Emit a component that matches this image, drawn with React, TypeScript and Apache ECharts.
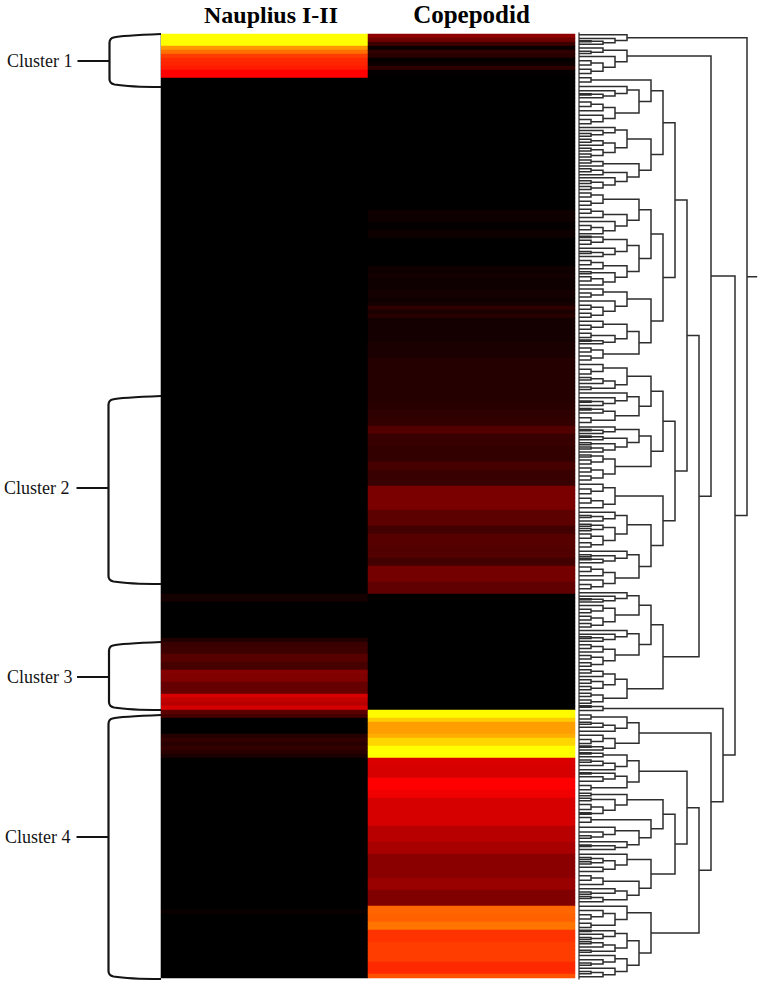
import React, { useEffect, useRef } from "react";
import * as echarts from "echarts";

// ---------- Data ----------
const stages = ["Nauplius I-II", "Copepodid"];
// Expression per row, run-length encoded as [rowCount, value]; 0 = black, 50 = red, 100 = yellow
const naupliusRuns = [
  [3, 100], [1, 80], [1, 72], [1, 62], [1, 58], [1, 57], [1, 55], [2, 50],
  [129, 0], [2, 4], [9, 0], [1, 6], [1, 11], [2, 12], [2, 17], [2, 14], [1, 26], [2, 25], [3, 20],
  [1, 42], [1, 38], [1, 36], [1, 42], [1, 18], [1, 14], [4, 0],
  [1, 7], [1, 10], [1, 8], [1, 10], [1, 8], [1, 5], [38, 0], [1, 2], [16, 0],
];
const copepodidRuns = [
  [1, 28], [1, 22], [1, 12], [1, 2], [1, 9], [1, 8], [1, 1], [1, 2], [1, 9], [1, 1],
  [34, 0], [3, 3], [2, 1], [2, 3], [7, 0],
  [2, 3], [1, 4], [3, 3], [2, 4], [1, 3], [1, 4], [1, 9], [1, 5], [1, 8], [6, 4], [4, 5], [7, 7], [4, 7],
  [2, 8], [2, 9], [2, 10], [2, 16], [3, 11], [4, 10], [2, 14], [4, 11], [6, 24], [4, 18], [2, 13],
  [3, 17], [3, 16], [2, 13], [4, 23], [3, 19], [29, 0],
  [2, 99], [1, 90], [3, 81], [1, 84], [2, 92], [3, 100], [2, 43], [3, 42], [3, 50], [2, 47], [7, 42], [4, 36],
  [3, 33], [6, 27], [3, 30], [4, 25], [2, 70], [2, 69], [2, 73], [3, 60], [5, 62], [3, 58], [1, 66],
];
const clusterNames = ["Cluster 1", "Cluster 2", "Cluster 3", "Cluster 4"];

// Dendrogram: [level, upper, lower, spanInRows?]; a bare number is a leaf and its row height
const p = [1, 1, 1];
const n = [1, 0.5, 0.5];
const d = [1, 0.3, 0.3];
const nodeA = [4, 1, [3, 1, [2, d, 1]], 3.25];
const nodeB = [4, [2, 1, n], [3, 1, [2, p, p]], 7.4];
const nodeC = [6, p, [5, [4, 1, [3, 1, [2, d, 1]]], [3, [2, p, 1], [2, 1, p]]], 12.6];
const nodeD = [6, [4, [3, 1, [2, 1, p]], [3, [2, p, 1], [2, p, p]]], [5, [2, p, 1], [4, [2, p, 1], [3, 1, [2, p, p]]]], 16.25];
const nodeE = [6, [5, [2, p, p], [4, [2, p, 1], [3, 1, [2, p, 1]]]], [5, [4, [2, d, p], [3, 1, [2, n, 1]]], [4, [2, p, 1], [3, n, [2, p, 1]]]], 24];
const nodeF = [6, [4, [2, 1, p], [3, 1, [2, p, p]]], [5, [4, [2, 1, p], [3, p, [2, d, 1]]], [2, p, p]], 18.75];
const nodeG = [6, [4, [2, 1, p], [3, [2, n, 1], n]], [5, [4, 1, [3, 1, [2, d, 1]]], [3, [2, d, 1], p]], 15.75];
const nodeH = [6, [5, [3, 1, [2, d, 1]], [4, [2, d, 1], [3, n, [2, n, 1]]]], [3, [2, n, p], [2, p, p]], 14.25];
const nodeI = [3, [2, 1, p], [2, p, 1], 7];
const nodeJ = [6, [4, [3, 1, [2, n, 1]], [3, [2, n, n], [2, p, p]]], [5, [4, 1, [3, n, [2, d, 1]]], [3, [2, p, 1], [2, 1, p]]], 20.25];
const nodeK = [6, [5, [4, 1, [3, 1, [2, d, 1]]], [3, [2, 1, p], [2, p, p]]], [5, [4, 1, [3, 1, [2, n, 1]]], [3, [2, p, 1], [2, p, p]]], 19.25];
const nodeM = [4, [3, [2, p, 1], [2, p, p]], [2, p, p], 9.25];
const nodeO = [2, d, 1, 2];
const nodeP = [5, [4, p, [3, [2, n, 1], 1]], [3, [2, 1, p], [2, d, 1]], 9.75];
const nodeQ = [5, [4, [2, d, 1], [3, [2, n, 1], 1]], [4, [3, d, [2, 1, 1]], p], 10];
const nodeR = [4, n, [3, n, [2, p, d]], 5.75];
const nodeS = [6, p, [5, [3, 1, [2, 1, n]], [4, 1, [3, d, 1]]], 9.25];
const nodeT = [6, [4, 1, [3, [2, n, n], [2, 1, 1]]], [5, [2, p, 1], [4, [3, 1, n], [2, n, 1]]], 13];
const nodeU = [6, [4, 1, [3, [2, 1, p], p]], [5, [4, [3, d, [2, 1, n]], [3, [2, n, 1], n]], [4, [3, 1, [2, 1, n]], [3, 1, [2, n, 1]]]], 18.75];

const upperBranch = [11, nodeB, [10, [9, [8, [7, nodeC, nodeD], [7, nodeE, nodeF]], [8, [7, nodeG, nodeH], [7, nodeI, nodeJ]]], [7, nodeK, nodeM]]];
const lowerBranch = [12, nodeO, [11, nodeP, [10, [9, nodeQ, [8, [7, nodeR, nodeS], nodeT]], nodeU]]];
const dendrogramRoot = [14, nodeA, [13, upperBranch, lowerBranch]];
const dendrogramRows = 236.5;
const rootStemLevel = 14.85;

// ---------- Layout of the tree ----------
const weight = (node: any): number =>
  typeof node === "number" ? node : node[3] ?? weight(node[1]) + weight(node[2]);

function buildBrackets(root: any) {
  const items: number[][] = [];
  let cursor = 0;
  const place = (node: any, scale: number): { y: number; level: number } => {
    if (typeof node === "number") {
      const y = cursor + (node * scale) / 2;
      cursor += node * scale;
      return { y, level: 0 };
    }
    const s = node[3] ? node[3] / (weight(node[1]) + weight(node[2])) : scale;
    const a = place(node[1], s);
    const b = place(node[2], s);
    items.push([node[0], a.y, b.y, a.level, b.level]);
    return { y: (a.y + b.y) / 2, level: node[0] };
  };
  const top = place(root, 1);
  items.push([rootStemLevel, top.y, top.y, root[0], root[0]]);
  return items;
}

const expandRuns = (runs: number[][]) => runs.flatMap(([count, v]) => Array(count).fill(v));

const FONT = "'Liberation Serif', 'Times New Roman', serif";
const INK = "#141414";

function bracketPath(top: number, bottom: number, armY: number, x: number) {
  const h = 161;
  return (
    `M${h} ${top} C${h - 26} ${top + 1},${x + 10} ${top + 2},${x + 4} ${top + 3.5} Q${x} ${top + 4.5},${x} ${top + 9} ` +
    `L${x} ${bottom - 8} Q${x} ${bottom - 3.5},${x + 5} ${bottom - 2.5} C${x + 14} ${bottom - 1},${h - 20} ${bottom},${h} ${bottom} ` +
    `M${x} ${armY} L${x - 32} ${armY}`
  );
}
// top, bottom, arm height, bracket x, label x
const bracketLayout = [
  [34, 87, 61, 109.5, 7],
  [396, 584, 488, 108.5, 4],
  [642, 710, 677, 109, 7],
  [715, 979, 837, 108.5, 5],
];

export default function App() {
  const ref = useRef<HTMLDivElement>(null);
  useEffect(() => {
    if (!ref.current) return;
    const chart = echarts.init(ref.current, undefined, { renderer: "svg" });
    const naup = expandRuns(naupliusRuns);
    const cope = expandRuns(copepodidRuns);
    const rows = naup.map((_, i) => String(i + 1));
    const cells: number[][] = [];
    naup.forEach((v, i) => cells.push([0, i, v]));
    cope.forEach((v, i) => cells.push([1, i, v]));
    const brackets = buildBrackets(dendrogramRoot);

    const graphics: any[] = [
      { type: "line", shape: { x1: 160.5, y1: 33, x2: 160.5, y2: 979 }, style: { stroke: "#b5b5b5", lineWidth: 1 }, z: 5 },
    ];
    bracketLayout.forEach(([top, bottom, arm, x, labelX], i) => {
      const name = `clusterBracket${i}`;
      echarts.graphic.registerShape(name, echarts.graphic.extendPath(bracketPath(top, bottom, arm, x), {}) as any);
      graphics.push({ type: name, x: 0, y: 0, style: { fill: "none", stroke: INK, lineWidth: 2.2 }, z: 5 });
      graphics.push({
        type: "text", x: labelX, y: arm, z: 5,
        style: { text: clusterNames[i], fill: INK, font: `18px ${FONT}`, textVerticalAlign: "middle", textBaseline: "middle" },
      });
    });

    chart.setOption({
      animation: false,
      backgroundColor: "#ffffff",
      grid: [
        { left: 161, top: 34, width: 414, height: 944, containLabel: false },
        { left: 579, top: 33, width: 180, height: 946, containLabel: false },
      ],
      xAxis: [
        {
          type: "category", gridIndex: 0, data: stages, position: "top",
          axisLine: { show: false }, axisTick: { show: false }, splitLine: { show: false },
          axisLabel: {
            interval: 0, margin: 7,
            formatter: (v: string) => (v === stages[0] ? `{a|${v}}` : `{b|${v}}`),
            rich: {
              a: { fontFamily: FONT, fontWeight: "bold", fontSize: 24, color: "#000", padding: [0, 0, 0, 13] },
              b: { fontFamily: FONT, fontWeight: "bold", fontSize: 25, color: "#000" },
            },
          },
        },
        { type: "value", gridIndex: 1, min: 0, max: 15, show: false },
      ],
      yAxis: [
        { type: "category", gridIndex: 0, data: rows, inverse: true, show: false },
        {
          type: "value", gridIndex: 1, min: 0, max: dendrogramRows, inverse: true,
          axisLine: { show: true, onZero: false, lineStyle: { color: "#555", width: 1.5 } },
          axisTick: { show: false }, axisLabel: { show: false }, splitLine: { show: false },
        },
      ],
      visualMap: {
        show: false, type: "continuous", min: 0, max: 100, dimension: 2, seriesIndex: 0,
        inRange: { color: ["#000000", "#ff0000", "#ffff00"] },
      },
      series: [
        { type: "heatmap", xAxisIndex: 0, yAxisIndex: 0, data: cells, itemStyle: { borderWidth: 0 }, silent: true },
        {
          type: "custom", xAxisIndex: 1, yAxisIndex: 1, data: brackets, silent: true, clip: false,
          encode: { x: 0, y: 1 },
          renderItem: (_: any, api: any) => {
            const lvl = api.value(0), yA = api.value(1), yB = api.value(2), lA = api.value(3), lB = api.value(4);
            return {
              type: "polyline",
              shape: { points: [api.coord([lA, yA]), api.coord([lvl, yA]), api.coord([lvl, yB]), api.coord([lB, yB])] },
              style: { stroke: "#2e2e2e", lineWidth: 1.5, fill: null },
            };
          },
        },
      ],
      graphic: graphics,
    });
    return () => chart.dispose();
  }, []);
  return <div ref={ref} style={{ position: "absolute", left: 0, top: 0, width: 762, height: 986 }} />;
}
